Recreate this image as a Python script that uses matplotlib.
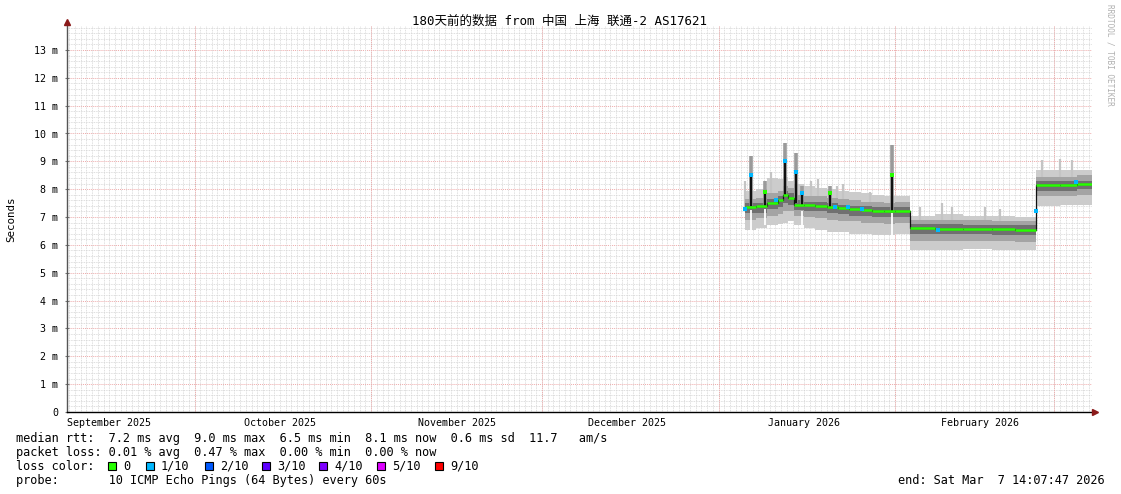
import matplotlib
matplotlib.use("Agg")
import matplotlib.pyplot as plt
import matplotlib.dates as mdates
from matplotlib.patches import Rectangle
import numpy as np
from datetime import datetime, timedelta

W, H = 1121, 494

# time window: 180 days ending at the "end" stamp
t_end = datetime(2026, 3, 7, 14, 7, 47)
t_start = t_end - timedelta(days=180)

# smoke data as step breakpoints (value holds until the next breakpoint), ms
brk = ["2026-01-05 14:00", "2026-01-07 12:00", "2026-01-09 14:00", "2026-01-11 12:00",
       "2026-01-12 07:00", "2026-01-13 05:00", "2026-01-14 05:00", "2026-01-16 00:00",
       "2026-01-18 00:00", "2026-01-20 00:00", "2026-01-22 00:00", "2026-01-24 00:00",
       "2026-01-26 00:00", "2026-01-28 00:00", "2026-01-30 00:00", "2026-02-01 00:00",
       "2026-02-03 14:00", "2026-02-08 00:00", "2026-02-13 00:00", "2026-02-18 00:00",
       "2026-02-22 00:00", "2026-02-25 19:00", "2026-03-02 00:00", "2026-03-05 00:00"]
last = "2026-03-07 14:07"
med = [7.36, 7.38, 7.50, 7.60, 7.80, 7.70, 7.45, 7.42, 7.40, 7.35, 7.32, 7.28,
       7.25, 7.22, 7.20, 7.22, 6.60, 6.58, 6.57, 6.57, 6.55, 8.15, 8.15, 8.18]
lo = [6.55, 6.60, 6.70, 6.75, 6.80, 6.85, 6.70, 6.60, 6.55, 6.45, 6.45, 6.40,
      6.40, 6.35, 6.35, 6.40, 5.80, 5.80, 5.85, 5.80, 5.80, 7.40, 7.45, 7.45]
lm = [6.90, 6.95, 7.05, 7.10, 7.20, 7.20, 7.05, 7.00, 6.95, 6.90, 6.85, 6.85,
      6.80, 6.80, 6.75, 6.80, 6.15, 6.15, 6.15, 6.15, 6.10, 7.75, 7.75, 7.80]
li = [7.15, 7.15, 7.30, 7.35, 7.50, 7.45, 7.25, 7.20, 7.20, 7.15, 7.10, 7.05,
      7.05, 7.00, 7.00, 7.00, 6.40, 6.40, 6.40, 6.35, 6.35, 7.95, 7.95, 8.00]
ui = [7.50, 7.50, 7.65, 7.75, 7.95, 7.85, 7.60, 7.55, 7.55, 7.50, 7.45, 7.40,
      7.40, 7.35, 7.35, 7.35, 6.75, 6.75, 6.70, 6.70, 6.70, 8.30, 8.30, 8.30]
um = [7.65, 7.70, 7.85, 7.95, 8.10, 8.05, 7.80, 7.75, 7.75, 7.70, 7.65, 7.60,
      7.55, 7.55, 7.50, 7.55, 6.90, 6.90, 6.90, 6.85, 6.85, 8.45, 8.45, 8.50]
hi = [7.95, 8.00, 8.40, 8.35, 8.45, 8.30, 8.20, 8.10, 8.05, 8.00, 7.95, 7.90,
      7.85, 7.80, 7.75, 7.75, 7.05, 7.10, 7.05, 7.05, 7.00, 8.70, 8.70, 8.70]

# single-interval median spikes: date, base, median top, smoke top, loss colour
spike_dates = ["2026-01-06 17:00", "2026-01-09 05:00", "2026-01-12 17:00", "2026-01-14 14:00",
               "2026-01-15 17:00", "2026-01-20 14:00", "2026-01-31 12:00"]
spike_base = [7.38, 7.40, 7.75, 7.50, 7.42, 7.35, 7.20]
spike_top = [8.50, 7.90, 9.00, 8.60, 7.85, 7.85, 8.50]
spike_smoke = [9.20, 8.30, 9.65, 9.30, 8.10, 8.10, 9.60]
spike_loss = [1, 0, 1, 1, 1, 0, 0]

# white gaps in the smoke below some spikes
gap_dates = ["2026-01-06 17:00", "2026-01-09 05:00", "2026-01-15 17:00", "2026-01-31 12:00"]
gap_bot = [6.55, 6.70, 6.65, 6.30]
gap_top = [7.25, 7.30, 7.20, 7.15]

# thin light smoke peaks above the band
peak_dates = ["2026-01-05 17:00", "2026-01-10 05:00", "2026-01-17 05:00", "2026-01-18 12:00",
              "2026-01-21 19:00", "2026-01-22 22:00", "2026-01-27 14:00", "2026-02-05 10:00",
              "2026-02-09 05:00", "2026-02-11 00:00", "2026-02-16 19:00", "2026-02-19 12:00",
              "2026-02-26 19:00", "2026-03-02 00:00", "2026-03-04 02:00"]
peak_base = [7.36, 7.50, 7.42, 7.40, 7.35, 7.32, 7.25, 6.58, 6.58, 6.57, 6.57, 6.57,
             8.15, 8.15, 8.15]
peak_top = [8.30, 8.60, 8.30, 8.35, 8.10, 8.20, 7.90, 7.35, 7.50, 7.35, 7.35, 7.30,
            9.05, 9.10, 9.05]

# median points with 1/10 packet loss
loss1_dates = ["2026-01-05 15:00", "2026-01-11 02:00", "2026-01-21 12:00", "2026-01-23 19:00",
               "2026-01-26 05:00", "2026-02-08 14:00", "2026-02-25 20:00", "2026-03-04 19:00"]
loss1_vals = [7.30, 7.60, 7.35, 7.35, 7.28, 6.53, 7.20, 8.25]

y_ticks = list(range(14))
y_labels = ["0"] + ["%d m" % v for v in range(1, 14)]
months = [datetime(2025, 9, 1), datetime(2025, 10, 1), datetime(2025, 11, 1),
          datetime(2025, 12, 1), datetime(2026, 1, 1), datetime(2026, 2, 1), datetime(2026, 3, 1)]
month_labels = ["September 2025", "October 2025", "November 2025",
                "December 2025", "January 2026", "February 2026"]

loss_colors = ["#26ff00", "#00b8ff", "#0059ff", "#5e00ff", "#7e00ff", "#dd00ff", "#ff0000"]
loss_names = ["0", "1/10", "2/10", "3/10", "4/10", "5/10", "9/10"]
loss_x = [108, 146, 205, 262, 319, 377, 435]

MONO = "DejaVu Sans Mono"


def dn(s):
    return mdates.date2num(datetime.strptime(s, "%Y-%m-%d %H:%M"))


def fx(x):
    return x / W


def fy(y):
    return 1 - y / H


fig = plt.figure(figsize=(W / 100, H / 100), dpi=100)
fig.patch.set_facecolor("white")
ax = fig.add_axes([67 / W, (H - 412) / H, 1025 / W, 386 / H])
x0 = mdates.date2num(t_start)
x1 = mdates.date2num(t_end)
ymax = 386 / 27.85
ax.set_xlim(x0, x1)
ax.set_ylim(0, ymax)

# grid
minor_y = [v for v in np.arange(0.2, ymax, 0.2) if abs(v - round(v)) > 0.01]
ax.hlines(minor_y, x0, x1, color="#d4d4d4", lw=0.6, linestyles=(0, (1, 1)), zorder=0)
ax.hlines(range(1, 14), x0, x1, color="#eeaaaa", lw=0.7, linestyles=(0, (1, 1)), zorder=0)
days = mdates.date2num([datetime(2025, 9, 9) + timedelta(days=i) for i in range(180)])
ax.vlines(days, 0, ymax, color="#d4d4d4", lw=0.6, linestyles=(0, (1, 1)), zorder=0)
ax.vlines(mdates.date2num(months[1:]), 0, ymax, color="#eeaaaa", lw=0.7,
          linestyles=(0, (1, 1)), zorder=0)

# smoke
xs = np.array([dn(s) for s in brk] + [dn(last)])


def ext(a):
    return np.array(a + [a[-1]])


ax.fill_between(xs, ext(lo), ext(hi), step="post", color="#cccccc", lw=0, zorder=1)
ax.fill_between(xs, ext(lm), ext(um), step="post", color="#a4a4a4", lw=0, zorder=2)
ax.fill_between(xs, ext(li), ext(ui), step="post", color="#707070", lw=0, zorder=3)

pk = [dn(s) for s in peak_dates]
ax.vlines(pk, peak_base, peak_top, color="#c4c4c4", lw=1.6, zorder=1.5)
gp = [dn(s) for s in gap_dates]
ax.vlines(gp, gap_bot, gap_top, color="white", lw=1.3, zorder=3.5)
sp = [dn(s) for s in spike_dates]
ax.vlines(sp, spike_base, spike_smoke, color="#9a9a9a", lw=2.6, zorder=3.6)
ax.vlines(sp, spike_base, spike_top, color="#111111", lw=1.6, zorder=4)

# median
ax.step(xs, ext(med), where="post", color="#111111", lw=0.9, zorder=4)
ax.hlines(med, xs[:-1], xs[1:], color=loss_colors[0], lw=1.8, zorder=5)
for d, t, l in zip(sp, spike_top, spike_loss):
    ax.plot([d], [t], marker="s", ms=2.4, mew=0, color=loss_colors[l], zorder=6)
ax.plot([dn(s) for s in loss1_dates], loss1_vals, ls="none", marker="s", ms=2.4,
        mew=0, color=loss_colors[1], zorder=6)

# axes and ticks
for s in ["top", "right"]:
    ax.spines[s].set_visible(False)
ax.spines["left"].set_color("#555555")
ax.spines["left"].set_linewidth(1.0)
ax.spines["bottom"].set_color("black")
ax.spines["bottom"].set_linewidth(1.0)
ax.set_yticks(y_ticks)
ax.set_yticklabels(y_labels, family=MONO, fontsize=7.2)
ax.tick_params(axis="y", length=3, direction="inout", color="#777777", pad=5)
mid = [mdates.date2num(m + timedelta(days=15)) for m in months[:-1]]
ax.set_xticks(mid)
ax.set_xticklabels(month_labels, family=MONO, fontsize=7.2)
ax.tick_params(axis="x", length=0, pad=4)
ax.plot([0], [1 + 4 / 386], transform=ax.transAxes, marker="^", ms=4.5, color="#8b1a1a",
        clip_on=False, zorder=10)
ax.plot([1 + 3 / 1025], [0], transform=ax.transAxes, marker=">", ms=4.5, color="#8b1a1a",
        clip_on=False, zorder=10)

# texts
fig.text(fx(560), fy(21), "180天前的数据 from 中国 上海 联通-2 AS17621",
         family=[MONO, "Noto Sans CJK SC"], fontsize=9, ha="center", va="center")
fig.text(fx(11), fy(219), "Seconds", family=MONO, fontsize=7.8, rotation=90,
         ha="center", va="center")
fig.text(fx(1110), fy(4), "RRDTOOL / TOBI OETIKER", family=MONO, fontsize=5.6,
         rotation=270, ha="center", va="top", color="#b0b0b0")

fs = 8.55
fig.text(fx(16), fy(438), "median rtt:  7.2 ms avg  9.0 ms max  6.5 ms min  8.1 ms now  0.6 ms sd  11.7   am/s",
         family=MONO, fontsize=fs, va="center")
fig.text(fx(16), fy(452), "packet loss: 0.01 % avg  0.47 % max  0.00 % min  0.00 % now",
         family=MONO, fontsize=fs, va="center")
fig.text(fx(16), fy(466), "loss color:", family=MONO, fontsize=fs, va="center")
for c, name, x in zip(loss_colors, loss_names, loss_x):
    fig.add_artist(Rectangle((fx(x), fy(470)), 8 / W, 8 / H, transform=fig.transFigure,
                             facecolor=c, edgecolor="black", lw=0.8))
    fig.text(fx(x + 15), fy(466), name, family=MONO, fontsize=fs, va="center")
fig.text(fx(16), fy(480), "probe:       10 ICMP Echo Pings (64 Bytes) every 60s",
         family=MONO, fontsize=fs, va="center")
fig.text(fx(1105), fy(480), "end: Sat Mar  7 14:07:47 2026", family=MONO, fontsize=fs,
         va="center", ha="right")

fig.savefig("out.png", dpi=100, facecolor="white")
